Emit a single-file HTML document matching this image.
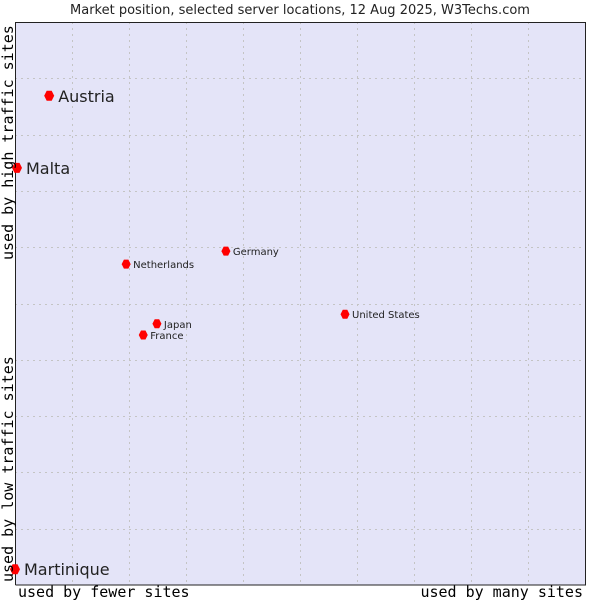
<!DOCTYPE html>
<html><head><meta charset="utf-8"><style>
body{margin:0;background:#fff;width:600px;height:600px;overflow:hidden}
svg text{font-family:"DejaVu Sans","Liberation Sans",sans-serif}
.mono{font-family:"DejaVu Sans Mono","Liberation Mono",monospace}
</style></head><body>
<svg id="chart" width="600" height="600">
<text x="300" y="14" text-anchor="middle" font-size="13" fill="#222">Market position, selected server locations, 12 Aug 2025, W3Techs.com</text>
<rect x="15" y="22" width="570" height="563" fill="#e4e4f8"/>
<g id="grid"></g>
<path d="M15.5 585 V22.5 H585.5 V585 H15.5" fill="none" stroke="#222" stroke-width="1"/>
<g id="pts"></g>
<text class="mono" x="18" y="597" font-size="15" fill="#000">used by fewer sites</text>
<text class="mono" x="583" y="597" font-size="15" text-anchor="end" fill="#000">used by many sites</text>
<text class="mono" transform="translate(13,260) rotate(-90)" font-size="15" fill="#000">used by high traffic sites</text>
<text class="mono" transform="translate(13,582) rotate(-90)" font-size="15" fill="#000">used by low traffic sites</text>
</svg>
<script>
const countries=["Austria","Malta","Netherlands","Germany","United States","Japan","France","Martinique"];
const xValues=[6.0,0.35,19.5,37.0,57.9,24.9,22.5,0];
const yValues=[86.9,74.1,57.0,59.3,48.1,46.4,44.4,2.8];
const bigLabel=[true,true,false,false,false,false,false,true];
const X0=15,X1=585,Y0=585,Y1=22;
function sx(v){return X0+v/100*(X1-X0);}
function sy(v){return Y0-v/100*(Y0-Y1);}
const ns="http://www.w3.org/2000/svg";
const grid=document.getElementById('grid');
for(let i=1;i<10;i++){
 const gx=X0+i*57,gy=Y0-i*(Y0-Y1)/10;
 const l1=document.createElementNS(ns,'line');
 
 
 l1.setAttribute('x1',gx+0.5);l1.setAttribute('x2',gx+0.5);l1.setAttribute('y1',Y1);l1.setAttribute('y2',Y0);
 l1.setAttribute('stroke','#c4c4c4');l1.setAttribute('stroke-dasharray','2,4');grid.appendChild(l1);
 const l2=document.createElementNS(ns,'line');
 
 
 l2.setAttribute('y1',Math.round(gy)+0.5);l2.setAttribute('y2',Math.round(gy)+0.5);l2.setAttribute('x1',X0);l2.setAttribute('x2',X1);
 l2.setAttribute('stroke','#c4c4c4');l2.setAttribute('stroke-dasharray','2,4');grid.appendChild(l2);
}
const pts=document.getElementById('pts');
countries.forEach((c,i)=>{
 const x=sx(xValues[i]),y=sy(yValues[i]);
 const d=document.createElementNS(ns,'path');
 
 
 const r=bigLabel[i]?5:4.5;
 d.setAttribute('d',`M${x-r} ${y}L${x-r/2} ${y-r}L${x+r/2} ${y-r}L${x+r} ${y}L${x+r/2} ${y+r}L${x-r/2} ${y+r}Z`);
 d.setAttribute('fill','#f00');pts.appendChild(d);
 const t=document.createElementNS(ns,'text');
 
 
 t.setAttribute('x',x+(bigLabel[i]?9:7));
 t.setAttribute('y',y+(bigLabel[i]?6:4));
 t.setAttribute('font-size',bigLabel[i]?16:10);
 t.setAttribute('fill','#222');
 t.textContent=c;pts.appendChild(t);
});
</script>
</body></html>
